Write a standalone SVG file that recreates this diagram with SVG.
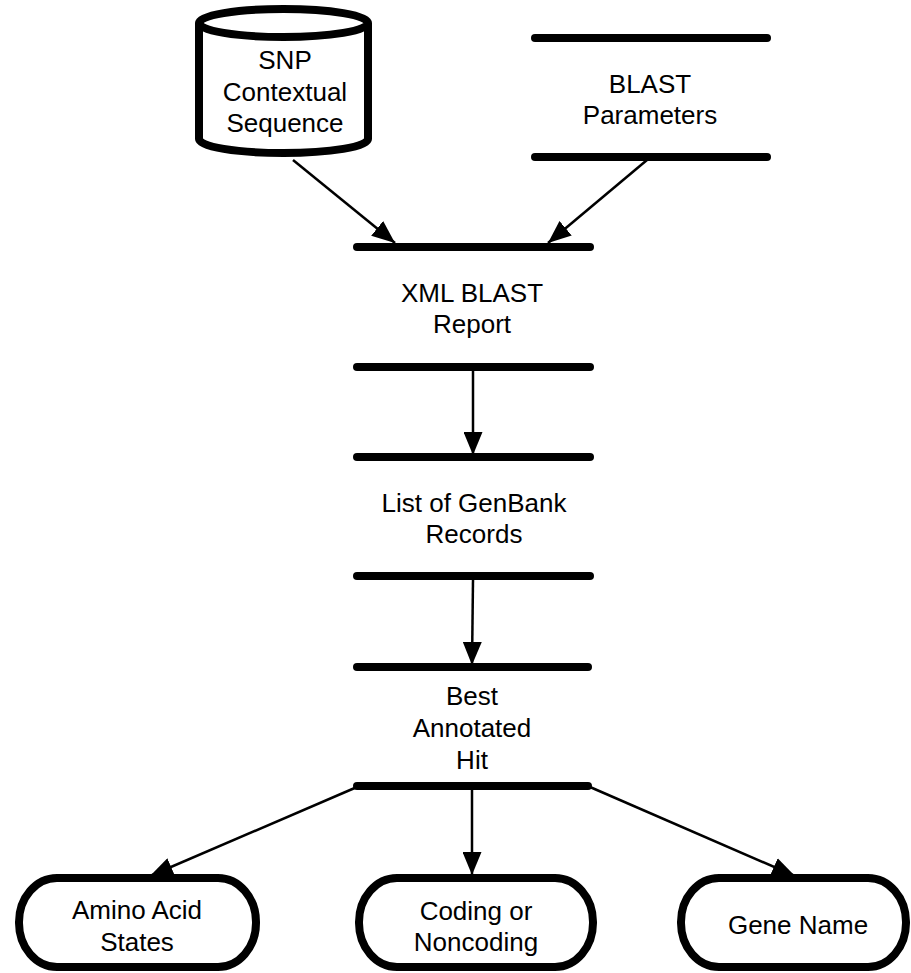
<svg xmlns="http://www.w3.org/2000/svg" width="911" height="973" viewBox="0 0 911 973">
<style>
.t{font-family:"Liberation Sans",Arial,Helvetica,sans-serif;font-size:26px;fill:#000;text-anchor:middle}
.bar{stroke:#000;stroke-width:8;stroke-linecap:round;fill:none}
.box{stroke:#000;stroke-width:8;fill:#fff}
.edge{stroke:#000;stroke-width:2.5;fill:none;marker-end:url(#ah)}
</style>
<defs>
<marker id="ah" markerUnits="userSpaceOnUse" viewBox="0 0 23 19" refX="23" refY="9.5" markerWidth="23" markerHeight="19" orient="auto">
<path d="M0,0 L23,9.5 L0,19 z" fill="#000"/>
</marker>
</defs>
<g id="connectors">
<line class="edge" x1="293" y1="160" x2="395" y2="243"/>
<line class="edge" x1="647" y1="160" x2="548" y2="243"/>
<line class="edge" x1="473" y1="370" x2="473" y2="455"/>
<line class="edge" x1="473" y1="580" x2="472" y2="665"/>
<line class="edge" x1="357" y1="787" x2="150" y2="876"/>
<line class="edge" x1="472" y1="787" x2="472" y2="875"/>
<line class="edge" x1="590" y1="787" x2="795" y2="876"/>
</g>
<g id="snp">
<path class="box" d="M199,23 L199,139 A84.5,14 0 0 0 368,139 L368,23 A84.5,14 0 0 0 199,23 A84.5,14 0 0 0 368,23"/>
<text class="t" x="285" y="69">SNP</text>
<text class="t" x="285" y="101">Contextual</text>
<text class="t" x="285" y="132">Sequence</text>
</g>
<g id="blast-params">
<line class="bar" x1="535" y1="38" x2="767" y2="38"/>
<line class="bar" x1="535" y1="157" x2="767" y2="157"/>
<text class="t" x="650" y="93">BLAST</text>
<text class="t" x="650" y="124">Parameters</text>
</g>
<g id="xml-report">
<line class="bar" x1="357" y1="247" x2="590" y2="247"/>
<line class="bar" x1="357" y1="367" x2="590" y2="367"/>
<text class="t" x="472" y="302">XML BLAST</text>
<text class="t" x="472" y="333">Report</text>
</g>
<g id="genbank-list">
<line class="bar" x1="357" y1="457" x2="590" y2="457"/>
<line class="bar" x1="357" y1="576" x2="590" y2="576"/>
<text class="t" x="474" y="512">List of GenBank</text>
<text class="t" x="474" y="543">Records</text>
</g>
<g id="best-hit">
<line class="bar" x1="357" y1="667" x2="588" y2="667"/>
<line class="bar" x1="357" y1="786" x2="588" y2="786"/>
<text class="t" x="472" y="705">Best</text>
<text class="t" x="472" y="737">Annotated</text>
<text class="t" x="472" y="769">Hit</text>
</g>
<g id="amino">
<rect class="box" x="19" y="878" width="237" height="89" rx="38" ry="44"/>
<text class="t" x="137" y="919">Amino Acid</text>
<text class="t" x="137" y="951">States</text>
</g>
<g id="coding">
<rect class="box" x="359" y="878" width="234" height="89" rx="38" ry="44"/>
<text class="t" x="476" y="920">Coding or</text>
<text class="t" x="476" y="951">Noncoding</text>
</g>
<g id="gene">
<rect class="box" x="681" y="878" width="225" height="89" rx="38" ry="44"/>
<text class="t" x="798" y="934">Gene Name</text>
</g>
</svg>
